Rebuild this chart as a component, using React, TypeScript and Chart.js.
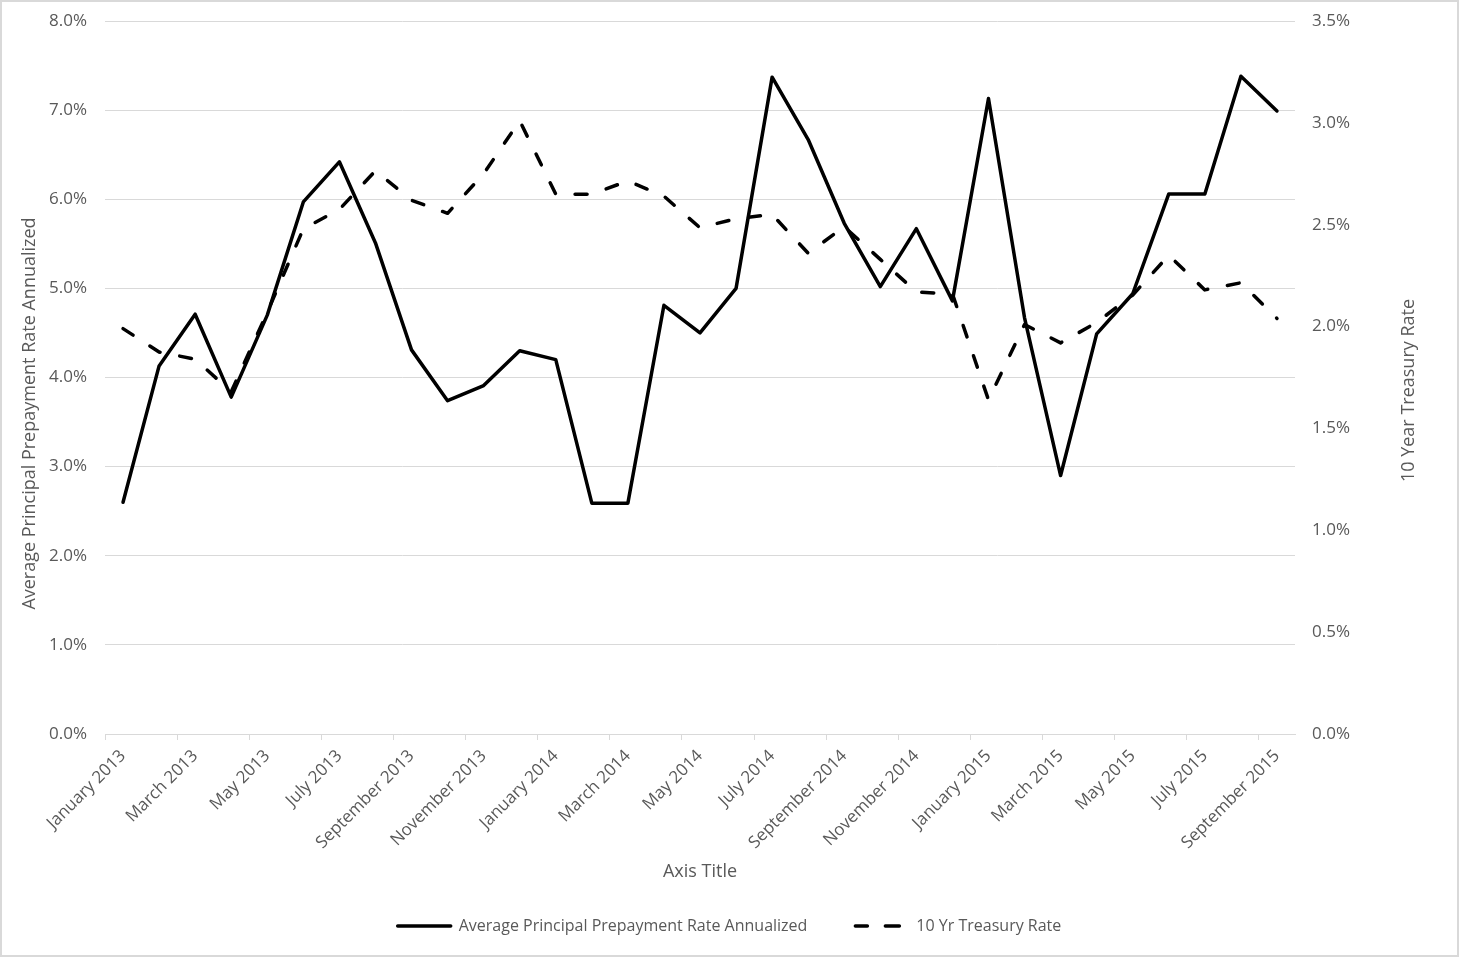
import React, { useEffect, useRef } from "react";
import { Chart, registerables } from "chart.js";

Chart.register(...registerables);

const months = [
  "January 2013", "February 2013", "March 2013", "April 2013", "May 2013", "June 2013",
  "July 2013", "August 2013", "September 2013", "October 2013", "November 2013", "December 2013",
  "January 2014", "February 2014", "March 2014", "April 2014", "May 2014", "June 2014",
  "July 2014", "August 2014", "September 2014", "October 2014", "November 2014", "December 2014",
  "January 2015", "February 2015", "March 2015", "April 2015", "May 2015", "June 2015",
  "July 2015", "August 2015", "September 2015"
];

// Average principal prepayment rate, annualized (%), left axis
const prepayRate = [
  2.6, 4.13, 4.71, 3.78, 4.7, 5.97, 6.42, 5.51, 4.31, 3.74, 3.91, 4.3,
  4.2, 2.59, 2.59, 4.81, 4.5, 5.0, 7.37, 6.67, 5.73, 5.02, 5.67, 4.86,
  7.13, 4.67, 2.9, 4.49, 4.94, 6.06, 6.06, 7.38, 6.99
];

// 10 year treasury rate (%), right axis
const treasuryRate = [
  1.99, 1.875, 1.84, 1.68, 2.07, 2.48, 2.575, 2.765, 2.62, 2.556, 2.75, 3.01,
  2.65, 2.65, 2.715, 2.64, 2.485, 2.53, 2.55, 2.36, 2.49, 2.33, 2.17, 2.16,
  1.64, 2.01, 1.92, 2.02, 2.155, 2.35, 2.18, 2.215, 2.04
];

const FONT = "'Open Sans', sans-serif";
const TEXT = "#595959";
const GRID = "#d9d9d9";

const pct = (v: number | string) => Number(v).toFixed(1) + "%";

// white page with the thin grey chart frame
const paper = {
  id: "paper",
  beforeDraw(chart: any) {
    const { ctx, width, height } = chart;
    ctx.save();
    ctx.fillStyle = "#fff";
    ctx.fillRect(0, 0, width, height);
    ctx.strokeStyle = GRID;
    ctx.lineWidth = 2;
    ctx.strokeRect(1, 1, width - 2, height - 2);
    ctx.restore();
  }
};

// both value-axis titles read bottom to top
const sideTitles = {
  id: "sideTitles",
  afterDraw(chart: any) {
    const { ctx, chartArea } = chart;
    const mid = (chartArea.top + chartArea.bottom) / 2;
    ctx.save();
    ctx.fillStyle = TEXT;
    ctx.font = `18px ${FONT}`;
    ctx.textAlign = "center";
    ctx.textBaseline = "middle";
    const put = (text: string, x: number, y: number) => {
      ctx.save();
      ctx.translate(x, y);
      ctx.rotate(-Math.PI / 2);
      ctx.fillText(text, 0, 0);
      ctx.restore();
    };
    put("Average Principal Prepayment Rate Annualized", chartArea.left - 75, mid + 36);
    put("10 Year Treasury Rate", chartArea.right + 114, mid + 13);
    ctx.restore();
  }
};

// fixed axis width, and no extra head room for the end labels
const fixWidth = (w: number) => (s: any) => {
  s.width = w;
  s.paddingTop = 0;
  s.paddingBottom = 0;
};

const PrepaymentChart: React.FC = () => {
  const chartRef = useRef<HTMLCanvasElement>(null);
  const chartInstance = useRef<Chart>();

  useEffect(() => {
    if (!chartRef.current) return;
    const ctx = chartRef.current.getContext("2d");
    if (!ctx) return;
    if (chartInstance.current) chartInstance.current.destroy();

    chartInstance.current = new Chart(ctx, {
      type: "line",
      data: {
        labels: months,
        datasets: [
          {
            label: "Average Principal Prepayment Rate Annualized",
            data: prepayRate,
            yAxisID: "y",
            borderColor: "#000",
            backgroundColor: "#000",
            borderWidth: 3.5,
            borderJoinStyle: "round",
            borderCapStyle: "round",
            pointRadius: 0,
            tension: 0
          },
          {
            label: "10 Yr Treasury Rate",
            data: treasuryRate,
            yAxisID: "y1",
            borderColor: "#000",
            backgroundColor: "#000",
            borderWidth: 3.5,
            borderDash: [12, 20],
            borderJoinStyle: "round",
            borderCapStyle: "round",
            pointRadius: 0,
            tension: 0
          }
        ]
      },
      options: {
        responsive: true,
        maintainAspectRatio: false,
        animation: false,
        layout: { padding: { top: 21, left: 10, right: 10, bottom: 13 } },
        plugins: {
          legend: {
            position: "bottom",
            labels: {
              boxWidth: 53,
              boxHeight: 0,
              padding: 48,
              color: TEXT,
              font: { family: FONT, size: 16 }
            }
          },
          tooltip: { enabled: false }
        },
        scales: {
          x: {
            offset: true,
            grid: {
              offset: true,
              drawOnChartArea: false,
              drawTicks: true,
              tickLength: 6,
              color: (c: any) => (c.index % 2 === 0 ? GRID : "rgba(0,0,0,0)")
            },
            border: { color: GRID },
            ticks: {
              autoSkip: false,
              minRotation: 45,
              maxRotation: 45,
              padding: 6,
              color: TEXT,
              font: { family: FONT, size: 17 },
              callback: (_v: any, i: number) => (i % 2 === 0 ? months[i] : "")
            },
            title: {
              display: true,
              text: "Axis Title",
              color: TEXT,
              font: { family: FONT, size: 18 },
              padding: { top: 0, bottom: -13 }
            },
            afterFit: (s: any) => {
              s.height = 136;
            }
          },
          y: {
            position: "left",
            min: 0,
            max: 8,
            ticks: {
              stepSize: 1,
              padding: 18,
              color: TEXT,
              font: { family: FONT, size: 17 },
              callback: pct
            },
            grid: { color: GRID, drawTicks: false },
            border: { display: false },
            afterFit: fixWidth(95)
          },
          y1: {
            position: "right",
            min: 0,
            max: 3.5,
            ticks: {
              stepSize: 0.5,
              padding: 17,
              color: TEXT,
              font: { family: FONT, size: 17 },
              callback: pct
            },
            grid: { drawOnChartArea: false, drawTicks: false },
            border: { display: false },
            afterFit: fixWidth(154)
          }
        }
      },
      plugins: [paper, sideTitles]
    });

    return () => {
      if (chartInstance.current) {
        chartInstance.current.destroy();
        chartInstance.current = undefined;
      }
    };
  }, []);

  return (
    <div style={{ position: "absolute", left: 0, top: 0, width: 1459, height: 957 }}>
      <canvas ref={chartRef} style={{ width: "100%", height: "100%" }} />
    </div>
  );
};

export default function App() {
  return <PrepaymentChart />;
}
